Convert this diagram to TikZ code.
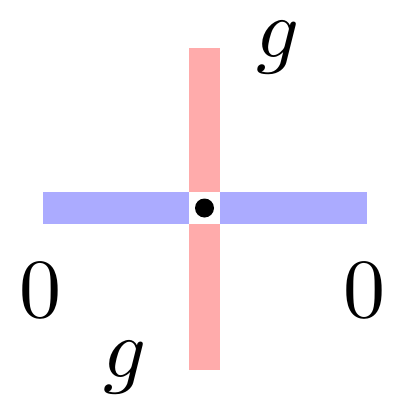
\documentclass[tikz,border=0pt]{standalone}
\begin{document}
\begin{tikzpicture}[x=1pt,y=-1pt,
  redbar/.style={fill=red!33,draw=none},
  bluebar/.style={fill=blue!33,draw=none},
  lbl/.style={inner sep=0pt}]
\useasboundingbox (0,0) rectangle (395,402);
\fill[redbar] (189,48) rectangle (220,370);
\fill[bluebar] (43,192) rectangle (367,224);
\fill[white] (189,192) rectangle (220,224);
\node[circle,fill=black,inner sep=0pt,minimum size=19pt] (dot) at (204.5,208) {};
\node[lbl] (gtop) at (278,48) {\scalebox{8.4}{$g$}};
\node[lbl] (gbot) at (125,368) {\scalebox{8.4}{$g$}};
\node[lbl] (zl) at (41,290) {\scalebox{8.4}{$0$}};
\node[lbl] (zr) at (364,290) {\scalebox{8.4}{$0$}};
\end{tikzpicture}
\end{document}
